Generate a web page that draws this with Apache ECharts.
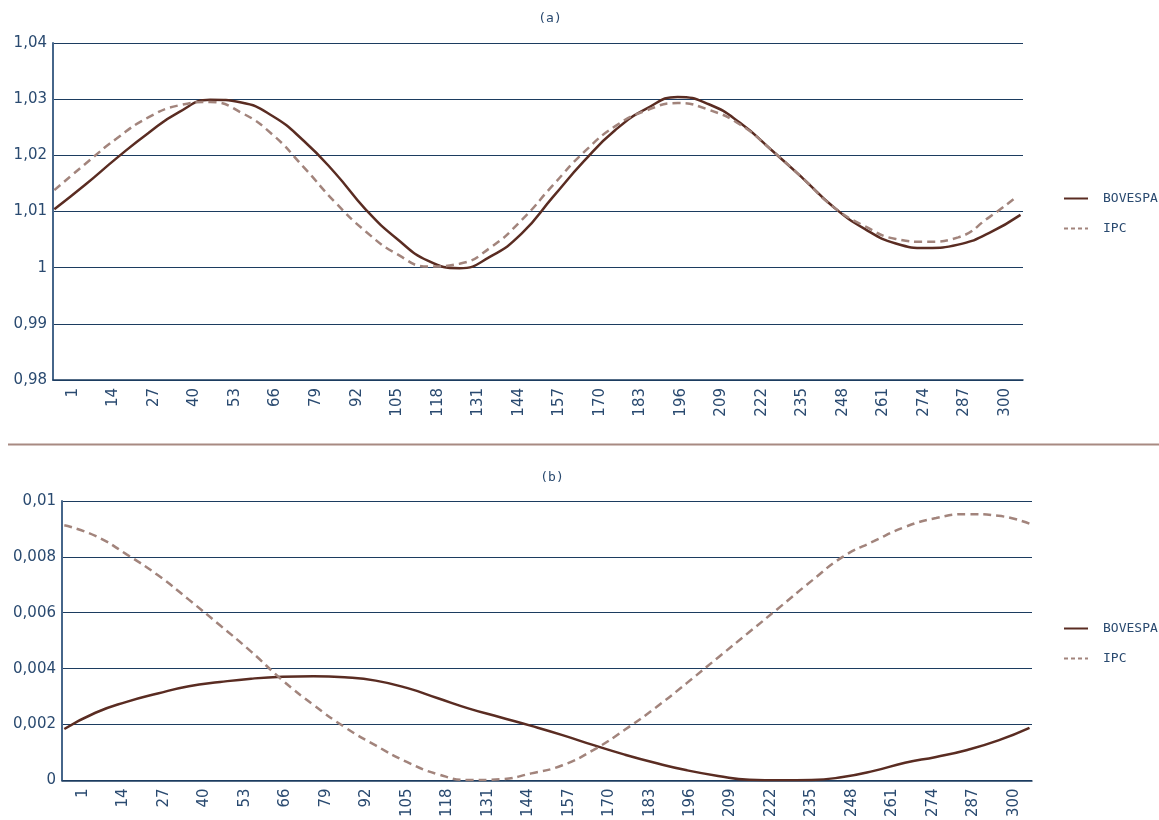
<!DOCTYPE html>
<html>
<head>
<meta charset="utf-8">
<script src="https://cdn.jsdelivr.net/npm/echarts@6/dist/echarts.min.js"></script>
<style>
html,body{margin:0;padding:0;background:#fff;}
#chart{width:1159px;height:820px;}
</style>
</head>
<body>
<div id="chart"></div>
<script>
// ---- data ----
const xTicks = [1,14,27,40,53,66,79,92,105,118,131,144,157,170,183,196,209,222,235,248,261,274,287,300];
const xA = [-5,5,15,25,35,45,55,65,75,85,95,105,115,125,135,145,155,165,175,185,195,205,215,225,235,245,255,265,275,285,295,305];
const xA_ipc = [-5,5,15,25,35,45,55,65,75,85,95,105,115,125,135,145,155,165,175,185,195,205,215,225,235,245,255,265,275,285,295,303];
const bovA = [1.0104,1.0148,1.0195,1.0239,1.0277,1.0299,1.0294,1.0270,1.0226,1.0169,1.0103,1.0051,1.0012,0.9999,1.0020,1.0061,1.0126,1.0190,1.0245,1.0283,1.0304,1.0291,1.0258,1.0210,1.0160,1.0108,1.0069,1.0043,1.0035,1.0041,1.0062,1.0094];
const ipcA = [1.0138,1.0185,1.0230,1.0267,1.0289,1.0295,1.0276,1.0237,1.0179,1.0117,1.0064,1.0024,1.0002,1.0007,1.0036,1.0085,1.0147,1.0206,1.0252,1.0280,1.0293,1.0281,1.0255,1.0210,1.0160,1.0108,1.0074,1.0051,1.0046,1.0054,1.0090,1.0123];
const xB = [-5,5,15,25,35,45,55,65,75,85,95,105,115,125,135,145,155,165,175,185,195,205,215,225,235,245,255,265,275,285,295,305];
const bovB = [0.00184,0.00242,0.00281,0.00311,0.00337,0.00352,0.00364,0.00371,0.00373,0.00369,0.00357,0.00331,0.00294,0.00257,0.00226,0.00195,0.00162,0.00126,0.00092,0.00062,0.00036,0.00016,0.00002,0.00000,0.00001,0.00012,0.00034,0.00063,0.00084,0.00109,0.00143,0.00188];
const ipcB = [0.00913,0.00875,0.00809,0.00735,0.00647,0.00555,0.00461,0.00359,0.00270,0.00191,0.00125,0.00066,0.00022,0.00001,0.00004,0.00025,0.00054,0.00109,0.00181,0.00261,0.00349,0.00440,0.00531,0.00622,0.00714,0.00800,0.00856,0.00907,0.00939,0.00953,0.00947,0.00919];
const names = ['BOVESPA','IPC'];
const titles = ['(a)','(b)'];

// ---- styles ----
const txt = '#2a4a70';
const gridCol = '#1c3c60';
const axisCol = '#46668a';
const bovCol = '#5a2c22';
const ipcCol = '#a2847c';
const numFmt = (d) => (v) => String(parseFloat(v.toFixed(d))).replace('.', ',');
const pairs = (xs, ys) => xs.map((x, i) => [x, ys[i]]);

function xAxis(gi, min, max) {
  return {
    type: 'value', gridIndex: gi, min: min, max: max,
    axisLine: { show: true, onZero: false, lineStyle: { color: gridCol, width: 1.5 } },
    axisTick: { show: false },
    splitLine: { show: false },
    axisLabel: {
      customValues: xTicks, rotate: 90, margin: 8,
      color: txt, fontFamily: 'DejaVu Sans', fontSize: 15,
      formatter: (v) => String(v)
    }
  };
}
function yAxis(gi, min, max, interval, d) {
  return {
    type: 'value', gridIndex: gi, min: min, max: max, interval: interval,
    axisLine: { show: true, onZero: false, lineStyle: { color: axisCol, width: 2 } },
    axisTick: { show: false },
    splitLine: { show: true, lineStyle: { color: gridCol, width: 1 } },
    axisLabel: { color: txt, fontFamily: 'DejaVu Sans', fontSize: 15, margin: 6, formatter: numFmt(d) }
  };
}
function line(name, gi, data, color, dashed) {
  return {
    name: name, type: 'line', xAxisIndex: gi, yAxisIndex: gi,
    data: data, smooth: true, symbol: 'none', clip: true,
    lineStyle: { color: color, width: 2.5, type: dashed ? [8, 5] : 'solid' },
    itemStyle: { color: color },
    emphasis: { disabled: true }
  };
}
function legend(top) {
  return {
    orient: 'vertical', left: 1063, top: top, padding: 0,
    itemWidth: 24, itemHeight: 14, itemGap: 17,
    data: [
      { name: names[0], itemStyle: { opacity: 0 }, lineStyle: { color: bovCol, width: 2, type: 'solid' } },
      { name: names[1], itemStyle: { opacity: 0 }, lineStyle: { color: ipcCol, width: 2, type: [4, 3] } }
    ],
    textStyle: { color: txt, fontFamily: 'DejaVu Sans Mono', fontSize: 13, padding: [0, 0, 0, 10] }
  };
}

const chart = echarts.init(document.getElementById('chart'), null, { renderer: 'canvas' });
chart.setOption({
  animation: false,
  backgroundColor: '#ffffff',
  title: [
    { text: titles[0], left: 545, top: 7, textAlign: 'center', textStyle: { color: txt, fontFamily: 'DejaVu Sans Mono', fontSize: 13, fontWeight: 'normal' } },
    { text: titles[1], left: 547, top: 466, textAlign: 'center', textStyle: { color: txt, fontFamily: 'DejaVu Sans Mono', fontSize: 13, fontWeight: 'normal' } }
  ],
  grid: [
    { left: 53, top: 43, width: 970, height: 337 },
    { left: 62, top: 501, width: 970, height: 280 }
  ],
  xAxis: [xAxis(0, -5.42, 305.8), xAxis(1, -5.74, 305.8)],
  yAxis: [yAxis(0, 0.98, 1.04, 0.01, 2), yAxis(1, 0, 0.01, 0.002, 4)],
  legend: [legend(192), legend(622)],
  series: [
    line(names[0], 0, pairs(xA, bovA), bovCol, false),
    line(names[1], 0, pairs(xA_ipc, ipcA), ipcCol, true),
    line(names[0], 1, pairs(xB, bovB), bovCol, false),
    line(names[1], 1, pairs(xB, ipcB), ipcCol, true)
  ],
  graphic: [
    { type: 'line', shape: { x1: 8, y1: 444.5, x2: 1159, y2: 444.5 }, style: { stroke: '#a88a82', lineWidth: 2 }, silent: true }
  ]
});
</script>
</body>
</html>
